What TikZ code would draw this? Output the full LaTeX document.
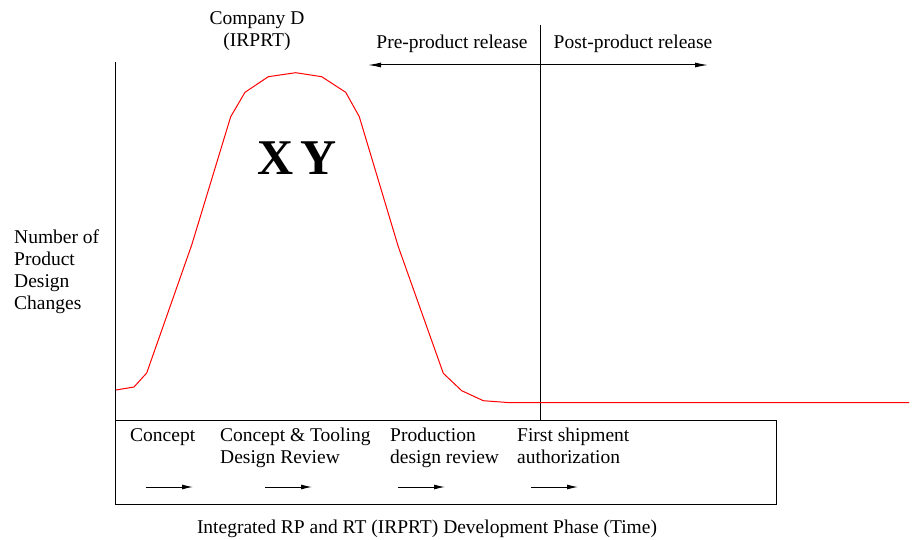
\documentclass[tikz,border=0pt]{standalone}
\usepackage{fontspec}
\setmainfont{Liberation Serif}
\usetikzlibrary{arrows.meta}
\begin{document}
\begin{tikzpicture}[x=1pt,y=-1pt,
  lbl/.style={inner sep=0pt,font=\fontsize{19.5}{22}\selectfont},
  tip/.style={-{Latex[length=11pt,width=5pt]}},
  ln/.style={line width=1pt}]
\useasboundingbox (0,0) rectangle (916,540);
% axes
\coordinate (ytop) at (115,62);
\coordinate (ybot) at (115,420);
\draw[ln] (ytop) -- (ybot);
\coordinate (dtop) at (540.5,25);
\coordinate (dbot) at (540.5,420);
\draw[ln] (dtop) -- (dbot);
% box
\node[draw,line width=1.2pt,minimum width=661pt,minimum height=84pt,inner sep=0pt,anchor=north west] (box) at (114.5,420) {};
% curve
\draw[red,line width=1pt] (116,390) -- (134,387) -- (146.7,373) -- (191.7,245) -- (230.7,116.7) -- (245,92.3) -- (268.3,76.7) -- (295.7,72.7) -- (321.7,76.7) -- (345.7,92.3) -- (359.3,116.7) -- (398.3,246.7) -- (443.3,373.3) -- (461.7,390.7) -- (483.3,400.7) -- (510,402.7) -- (909,402.7);
% top arrow
\coordinate (al) at (368,65);
\coordinate (ar) at (708,65);
\draw[ln,{Latex[length=13pt,width=5pt]}-{Latex[length=13pt,width=5pt]}] (al) -- (ar);
\node[lbl,anchor=base] (pre) at (452,49) {Pre-product release};
\node[lbl,anchor=base] (post) at (633,49) {Post-product release};
% company
\node[lbl,anchor=base,align=center] (comp) at (257,47) {Company D\\(IRPRT)};
% XY
\node[inner sep=0pt,font=\fontsize{50}{60}\selectfont\bfseries,anchor=base] (xy) at (297.5,175) {X\kern7pt Y};
% y label
\node[lbl,anchor=base west,align=left] (ylab) at (14,309) {Number of\\Product\\Design\\Changes};
% box labels
\node[lbl,anchor=base west] (c1) at (130,441) {Concept};
\node[lbl,anchor=base west,align=left] (c2) at (220,463) {Concept \& Tooling\\Design Review};
\node[lbl,anchor=base west,align=left] (c3) at (390,463) {Production\\design review};
\node[lbl,anchor=base west,align=left] (c4) at (517,463) {First shipment\\authorization};
\foreach \a/\b [count=\i] in {146/193,265/312,398/445,531/578}{
  \coordinate (s\i) at (\a,487);
  \coordinate (e\i) at (\b,487);
  \draw[ln,tip] (s\i) -- (e\i);
}
% bottom
\node[lbl,anchor=base] (xlab) at (427,533) {Integrated RP and RT (IRPRT) Development Phase (Time)};
\end{tikzpicture}
\end{document}
